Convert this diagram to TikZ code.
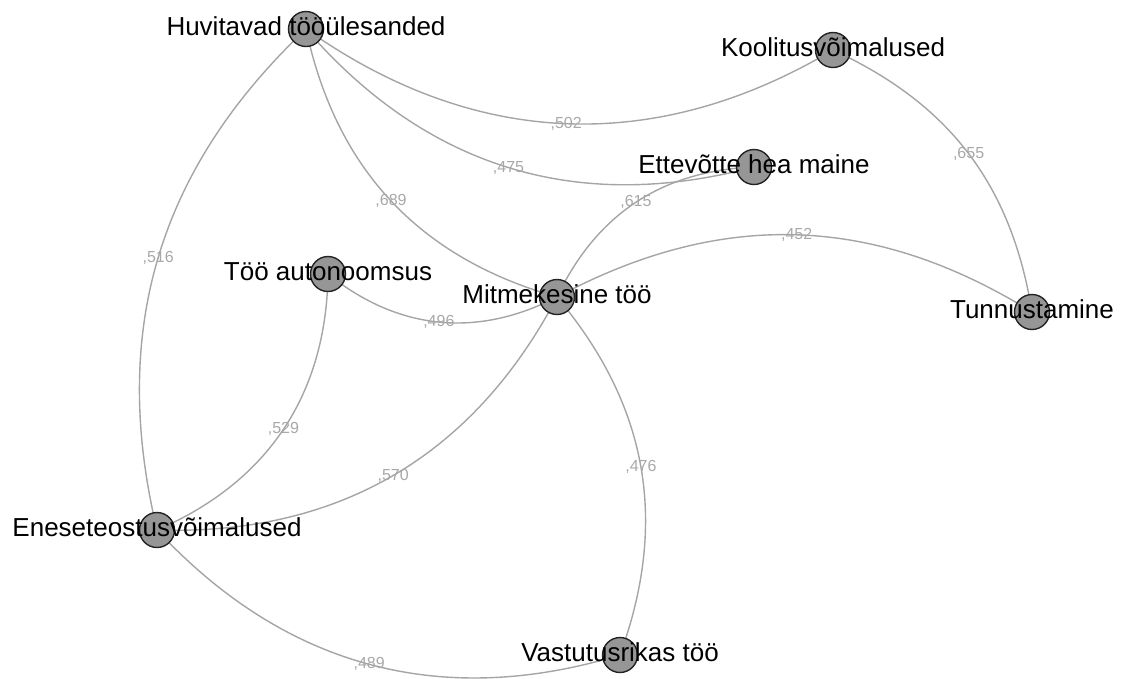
\documentclass[tikz,border=0pt]{standalone}
\usepackage{fontspec}
\setmainfont{Liberation Sans}
\usetikzlibrary{backgrounds}
\definecolor{edgec}{RGB}{165,165,165}
\definecolor{lblc}{RGB}{168,168,168}
\definecolor{nodefill}{RGB}{150,150,150}
\definecolor{nodeline}{RGB}{35,35,35}
\begin{document}
\begin{tikzpicture}[x=1pt,y=-1pt,
  vert/.style={circle,draw=nodeline,fill=nodefill,line width=1.4pt,minimum size=35pt,inner sep=0pt},
  vname/.style={anchor=base,yshift=-6.5pt,inner sep=0pt,font=\fontsize{26}{30}\selectfont,text=black},
  link/.style={draw=edgec,line width=1.4pt},
  wlbl/.style={midway,inner sep=0pt,font=\fontsize{16}{18}\selectfont,text=lblc}]
\path[use as bounding box] (0,0) rectangle (1123,678);
% vertices
\node[vert] (h) at (306,29) {};
\node[vert] (k) at (833,50) {};
\node[vert] (e) at (754,167) {};
\node[vert] (a) at (328,274) {};
\node[vert] (m) at (557,297) {};
\node[vert] (t) at (1032,312) {};
\node[vert] (s) at (157,530) {};
\node[vert] (v) at (620,655) {};
% edges
\begin{scope}[on background layer]
\draw[link] (h.center) to[bend right=33] node[wlbl]{,502} (k.center);
\draw[link] (h.center) to[bend right=32] node[wlbl]{,475} (e.center);
\draw[link] (h.center) to[bend right=31] node[wlbl]{,689} (m.center);
\draw[link] (h.center) to[bend right=30] node[wlbl]{,516} (s.center);
\draw[link] (k.center) to[bend left=28] node[wlbl]{,655} (t.center);
\draw[link] (e.center) to[bend right=31] node[wlbl]{,615} (m.center);
\draw[link] (m.center) to[bend left=30] node[wlbl]{,452} (t.center);
\draw[link] (a.center) to[bend right=33] node[wlbl]{,496} (m.center);
\draw[link] (a.center) to[bend left=33] node[wlbl]{,529} (s.center);
\draw[link] (m.center) to[bend left=32] node[wlbl]{,570} (s.center);
\draw[link] (m.center) to[bend left=30] node[wlbl]{,476} (v.center);
\draw[link] (s.center) to[bend right=32] node[wlbl]{,489} (v.center);
\end{scope}
% names
\node[vname] (hn) at (h.center) {Huvitavad tööülesanded};
\node[vname] (kn) at (k.center) {Koolitusvõimalused};
\node[vname] (en) at (e.center) {Ettevõtte hea maine};
\node[vname] (an) at (a.center) {Töö autonoomsus};
\node[vname] (mn) at (m.center) {Mitmekesine töö};
\node[vname] (tn) at (t.center) {Tunnustamine};
\node[vname] (sn) at (s.center) {Eneseteostusvõimalused};
\node[vname] (vn) at (v.center) {Vastutusrikas töö};
\end{tikzpicture}
\end{document}
